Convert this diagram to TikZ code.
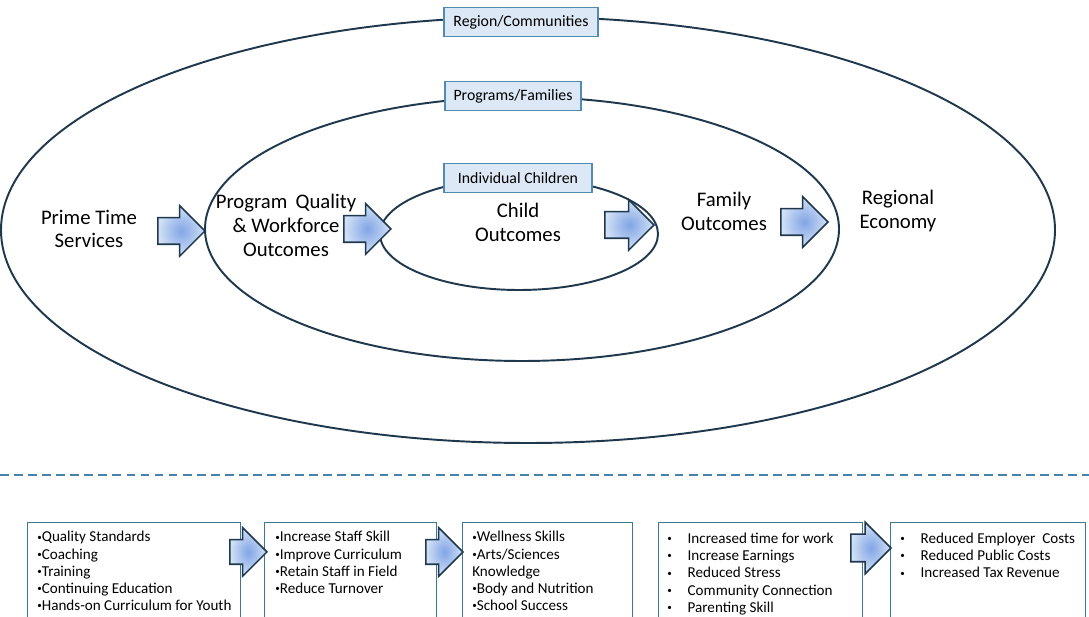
\documentclass[tikz,border=0pt]{standalone}
\usepackage{fontspec}
\setmainfont{Carlito}
\usepackage{tikz}
\usetikzlibrary{shapes.arrows, positioning, calc}
\definecolor{ringline}{RGB}{31,56,77}
\definecolor{tagfill}{RGB}{220,232,245}
\definecolor{tagline}{RGB}{80,140,175}
\definecolor{boxline}{RGB}{60,120,150}
\definecolor{dashblue}{RGB}{70,130,170}
\definecolor{arrowmid}{RGB}{130,165,230}
\definecolor{arrowrim}{RGB}{210,225,245}

\newcommand{\dotb}{\raisebox{0.25ex}{\scalebox{0.6}{\textbullet}}}

\tikzset{
  ring/.style={draw=ringline, line width=1.1pt},
  tag/.style={draw=tagline, fill=tagfill, line width=0.9pt, inner sep=0pt,
    minimum height=0.58cm, font=\fontsize{9}{10}\selectfont},
  stage/.style={align=center, font=\fontsize{11.8}{13.6}\selectfont},
  blockarrow/.style={single arrow, draw=ringline, line width=0.9pt,
    inner color=arrowmid, outer color=arrowrim, inner xsep=0pt,
    inner ysep=0.25cm, single arrow head extend=0.24cm,
    single arrow tip angle=90, anchor=tip},
  listbox/.style={draw=boxline, line width=0.8pt, anchor=north west,
    minimum height=2.4cm, inner sep=0pt},
  listtext/.style={anchor=north west, align=left, inner sep=0pt,
    font=\fontsize{8.6}{9.8}\selectfont}
}

\begin{document}
\begin{tikzpicture}[x=0.02cm, y=-0.02cm]

  \clip (0,0) rectangle (1089,617);

  % Rings
  \draw[ring] (528,230) ellipse [x radius=527, y radius=213];
  \draw[ring] (522,229) ellipse [x radius=317, y radius=132];
  \draw[ring] (519,234) ellipse [x radius=139, y radius=56];

  % Ring tags
  \node[tag, minimum width=3.08cm] (region) at (521,22) {Region/Communities};
  \node[tag, minimum width=2.72cm] (programs) at (513,96) {Programs/Families};
  \node[tag, minimum width=2.96cm] (children) at (518,178) {Individual Children};

  % Stages
  \node[stage] (prime) at (89,229) {Prime Time\\Services};
  \node[stage] (quality) at (286,225) {Program\, Quality\\\& Workforce\\Outcomes};
  \node[stage] (child) at (518,222) {Child\\Outcomes};
  \node[stage] (family) at (724,211) {Family\\Outcomes};
  \node[stage] (economy) at (898,211) {Regional\\Economy};

  % Block arrows (placed by their tips)
  \node[blockarrow, minimum height=0.94cm] (arrA) at (206,231) {};
  \node[blockarrow, minimum height=0.94cm] (arrB) at (392,229) {};
  \node[blockarrow, minimum height=0.98cm] (arrC) at (655,225) {};
  \node[blockarrow, minimum height=0.94cm] (arrD) at (829,222) {};

  % Divider
  \coordinate (divL) at (0,475);
  \coordinate (divR) at (1089,475);
  \draw[dashblue, line width=1.1pt, dash pattern=on 5pt off 3pt] (divL) -- (divR);

  % Detail boxes
  \node[listbox, minimum width=4.26cm] (boxA) at (27,522) {};
  \node[listbox, minimum width=3.44cm] (boxB) at (264,522) {};
  \node[listbox, minimum width=3.40cm] (boxC) at (462,522) {};
  \node[listbox, minimum width=4.08cm] (boxD) at (658,522) {};
  \node[listbox, minimum width=3.90cm] (boxE) at (890,522) {};

  \node[listtext] (listA) at (37,531) {%
    \dotb Quality Standards\\\dotb Coaching\\\dotb Training\\
    \dotb Continuing Education\\\dotb Hands-on Curriculum for Youth};
  \node[listtext] (listB) at (275,531) {%
    \dotb Increase Staff Skill\\\dotb Improve Curriculum\\
    \dotb Retain Staff in Field\\\dotb Reduce Turnover};
  \node[listtext] (listC) at (472,531) {%
    \dotb Wellness Skills\\\dotb Arts/Sciences\\Knowledge\\
    \dotb Body and Nutrition\\\dotb School Success};
  \node[listtext] (listD) at (667,531) {%
    \begin{tabular}{@{}l@{\hspace{9pt}}l@{}}
    \dotb & Increased time for work\\
    \dotb & Increase Earnings\\
    \dotb & Reduced Stress\\
    \dotb & Community Connection\\
    \dotb & Parenting Skill
    \end{tabular}};
  \node[listtext] (listE) at (900,531) {%
    \begin{tabular}{@{}l@{\hspace{9pt}}l@{}}
    \dotb & Reduced Employer\ \ Costs\\
    \dotb & Reduced Public Costs\\
    \dotb & Increased Tax Revenue
    \end{tabular}};

  % Small arrows between boxes
  \node[blockarrow, minimum height=0.74cm, inner ysep=0.23cm] (arrE) at (268,552) {};
  \node[blockarrow, minimum height=0.74cm, inner ysep=0.23cm] (arrF) at (464,552) {};
  \node[blockarrow, minimum height=0.80cm, inner ysep=0.26cm] (arrG) at (892,548) {};

\end{tikzpicture}
\end{document}
